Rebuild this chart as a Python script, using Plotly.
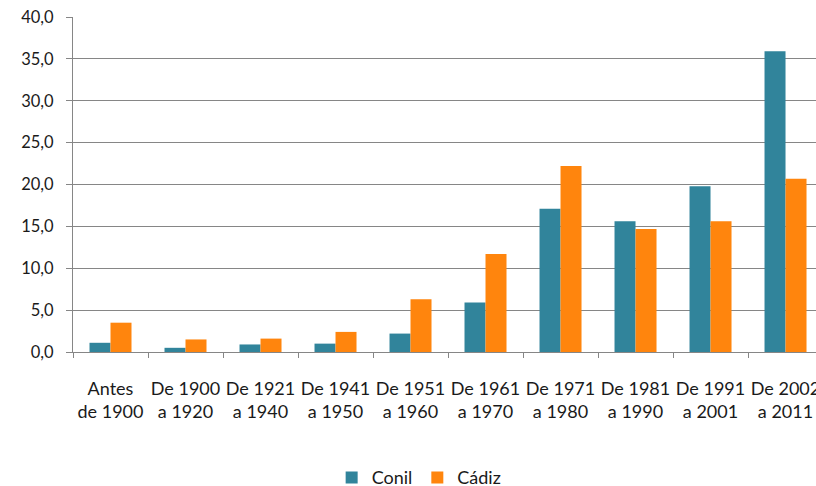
import plotly.graph_objects as go

# Periodos de construcción (etiquetas en dos líneas)
periodos = [
    "Antes<br>de 1900", "De 1900<br>a 1920", "De 1921<br>a 1940", "De 1941<br>a 1950",
    "De 1951<br>a 1960", "De 1961<br>a 1970", "De 1971<br>a 1980", "De 1981<br>a 1990",
    "De 1991<br>a 2001", "De 2002<br>a 2011",
]
conil = [1.1, 0.5, 0.9, 1.0, 2.2, 5.9, 17.1, 15.6, 19.8, 35.9]
cadiz = [3.5, 1.5, 1.6, 2.4, 6.3, 11.7, 22.2, 14.7, 15.6, 20.7]
y_ticks = [0, 5, 10, 15, 20, 25, 30, 35, 40]

_COLORS = {"Conil": "#31849B", "Cádiz": "#FF850D"}
_GRID = "#868686"

fig = go.Figure()
for name, vals in (("Conil", conil), ("Cádiz", cadiz)):
    fig.add_trace(go.Bar(
        x=periodos,
        y=vals,
        name=name,
        marker=dict(color=_COLORS[name], line=dict(width=0)),
    ))

# El gráfico original queda cortado por la derecha: el lienzo es algo más ancho
# que la ventana y el sobrante se oculta.
fig.update_layout(
    width=830,
    height=486,
    barmode="group",
    bargap=0.44,
    bargroupgap=0,
    separators=",.",
    plot_bgcolor="white",
    paper_bgcolor="white",
    font=dict(family="Lato, Liberation Sans, sans-serif", size=18, color="#1a1a1a"),
    margin=dict(l=73, r=0, t=17, b=134),
    xaxis=dict(
        type="category",
        range=[-0.5, 9.593],
        showline=True, linecolor=_GRID, linewidth=1,
        ticks="outside", tickson="boundaries", ticklen=5, tickcolor=_GRID,
        showgrid=False,
        tickangle=0,
        ticklabelstandoff=20,
    ),
    yaxis=dict(
        range=[0, 40],
        tickvals=y_ticks,
        tickformat=".1f",
        showline=True, linecolor=_GRID, linewidth=1,
        ticks="outside", ticklen=6, tickcolor=_GRID,
        showgrid=True, gridcolor=_GRID, gridwidth=1,
        zeroline=False,
        ticklabelstandoff=9,
        tickfont=dict(size=16.5),
    ),
    showlegend=True,
    legend=dict(
        orientation="h",
        xref="container", yref="container",
        x=0.505, xanchor="center",
        y=0.017, yanchor="middle",
        font=dict(size=18),
        itemwidth=30,
    ),
)

# el body del navegador trae 8px de margen y puede sacar barras de scroll
fig.write_html(
    "out.html",
    config={"displayModeBar": False},
    post_script="document.body.style.margin='0';document.body.style.overflow='hidden';",
)
